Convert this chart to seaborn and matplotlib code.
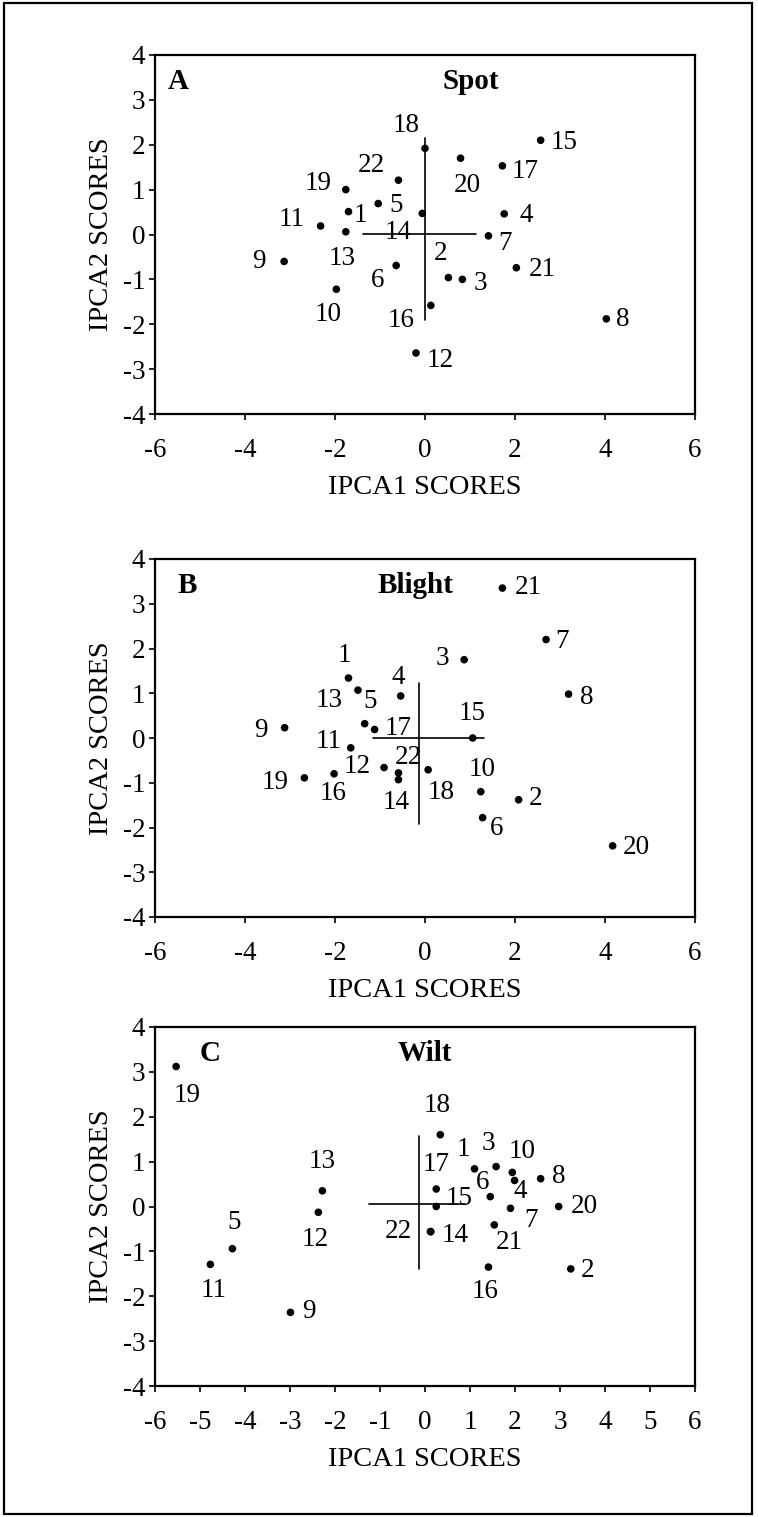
import matplotlib
matplotlib.use("Agg")
import matplotlib.pyplot as plt
import seaborn as sns
import pandas as pd
from matplotlib.patches import Rectangle

# ---------------- data ----------------
ids = list(range(1, 23))

spot_x = [-1.70, 0.52, 0.83, 1.76, -1.04, -0.64, 1.41, 4.03, -3.13, -1.97, -2.32,
          -0.20, -1.76, -0.06, 2.57, 0.13, 1.72, 0.00, -1.76, 0.79, 2.03, -0.59]
spot_y = [0.51, -0.96, -1.00, 0.46, 0.69, -0.69, -0.03, -1.88, -0.60, -1.22, 0.19,
          -2.64, 0.06, 0.47, 2.10, -1.58, 1.53, 1.92, 1.00, 1.70, -0.74, 1.21]

blight_x = [-1.70, 2.08, 0.87, -0.54, -1.49, 1.28, 2.69, 3.19, -3.12, 1.24, -1.65,
            -0.91, -1.34, -0.59, 1.06, -2.02, -1.12, 0.07, -2.68, 4.17, 1.72, -0.59]
blight_y = [1.34, -1.38, 1.75, 0.94, 1.07, -1.78, 2.20, 0.98, 0.23, -1.20, -0.22,
            -0.66, 0.32, -0.93, 0.00, -0.80, 0.19, -0.71, -0.89, -2.41, 3.35, -0.78]

wilt_x = [1.10, 3.24, 1.58, 1.99, -4.28, 1.45, 1.90, 2.57, -2.99, 1.94, -4.77,
          -2.37, -2.28, 0.13, 0.25, 1.41, 0.25, 0.34, -5.53, 2.97, 1.54, 0.12]
wilt_y = [0.84, -1.39, 0.89, 0.58, -0.94, 0.22, -0.04, 0.62, -2.36, 0.76, -1.29,
          -0.13, 0.35, -0.56, 0.00, -1.35, 0.39, 1.60, 3.12, 0.00, -0.41, -0.56]

# origin cross: vertical x, vertical y-extent, horizontal y, horizontal x-extent
spot_cross = (0.0, (-1.91, 2.16), 0.02, (-1.37, 1.13))
blight_cross = (-0.135, (-1.93, 1.23), 0.0, (-1.16, 1.30))
wilt_cross = (-0.135, (-1.40, 1.58), 0.05, (-1.25, 0.88))

panel_letters = ["A", "B", "C"]
panel_titles = ["Spot", "Blight", "Wilt"]
x_ticks_ab = [-6, -4, -2, 0, 2, 4, 6]
x_ticks_c = [-6, -5, -4, -3, -2, -1, 0, 1, 2, 3, 4, 5, 6]
y_ticks = [-4, -3, -2, -1, 0, 1, 2, 3, 4]
x_label = "IPCA1 SCORES"
y_label = "IPCA2 SCORES"

# ---------------- label offsets (pixels, style) ----------------
off_spot = {1: (12, -1), 2: (-8, 29), 3: (18, -2), 4: (22, 1), 5: (18, 1), 6: (-19, -13),
            7: (17, -6), 8: (16, 2), 9: (-25, 3), 10: (-8, -25), 11: (-29, 10), 12: (24, -5),
            13: (-4, -26), 14: (-24, -18), 15: (23, 0), 16: (-30, -14), 17: (23, -3),
            18: (-19, 27), 19: (-28, 9), 20: (7, -27), 21: (26, 1), 22: (-27, 18)}
off_blight = {1: (-4, 27), 2: (17, 4), 3: (-22, 4), 4: (-2, 23), 5: (12, -10), 6: (14, -9),
              7: (16, 1), 8: (18, -1), 9: (-24, 0), 10: (1, 27), 11: (-22, 10), 12: (-27, 4),
              13: (-36, 28), 14: (-2, -22), 15: (-1, 29), 16: (-1, -18), 17: (24, 4),
              18: (13, -22), 19: (-29, -2), 20: (24, 1), 21: (26, 3), 22: (10, 19)}
off_wilt = {1: (-11, 23), 2: (17, 1), 3: (-8, 27), 4: (6, -9), 5: (2, 31), 6: (-8, 18),
            7: (20, -10), 8: (18, 5), 9: (18, 4), 10: (10, 25), 11: (3, -25), 12: (-3, -26),
            13: (0, 34), 14: (24, -1), 15: (23, 11), 16: (-3, -24), 17: (0, 29), 18: (-3, 34),
            19: (11, -29), 20: (26, 3), 21: (15, -16), 22: (-32, 3)}
DY_SCALE = 0.93

# ---------------- style ----------------
sns.set_theme(style="white")
plt.rcParams["font.family"] = ["Liberation Serif", "DejaVu Serif"]
plt.rcParams["axes.unicode_minus"] = False

W, H, DPI = 758, 1517, 100
fig = plt.figure(figsize=(W / DPI, H / DPI), dpi=DPI)
fig.patch.set_facecolor("white")

# axes rectangles in pixels: (left, top, right, bottom)
boxes_px = [(155, 55, 695, 414), (155, 559, 695, 917), (155, 1027, 695, 1386)]

panels = [
    (spot_x, spot_y, spot_cross, off_spot, x_ticks_ab, 0.585),
    (blight_x, blight_y, blight_cross, off_blight, x_ticks_ab, 0.483),
    (wilt_x, wilt_y, wilt_cross, off_wilt, x_ticks_c, 0.50),
]
letter_x = [0.043, 0.059, 0.1025]

FS_TICK = 19.5
FS_LAB = 20.5
FS_PT = 19.5
FS_BOLD = 21

for i, ((xs, ys, cross, offs, xt, title_x), (l, t, r, b)) in enumerate(zip(panels, boxes_px)):
    ax = fig.add_axes([l / W, (H - b) / H, (r - l) / W, (b - t) / H])
    df = pd.DataFrame({"id": ids, "x": xs, "y": ys})
    sns.scatterplot(data=df, x="x", y="y", ax=ax, color="black", s=30,
                    edgecolor="none", zorder=3, legend=False)
    vx, vy, hy, hx = cross
    ax.plot([vx, vx], list(vy), color="black", lw=1.2, zorder=2)
    ax.plot(list(hx), [hy, hy], color="black", lw=1.2, zorder=2)
    for pid, px, py in zip(df["id"], df["x"], df["y"]):
        dx, dy = offs[pid]
        ax.annotate(str(pid), (px, py), xytext=(dx, dy * DY_SCALE - 9),
                    textcoords="offset pixels", ha="center", va="baseline",
                    fontsize=FS_PT, color="black")
    ax.set_xlim(-6, 6)
    ax.set_ylim(-4, 4)
    ax.set_xticks(xt)
    ax.set_yticks(y_ticks)
    ax.set_xticklabels([str(v) for v in xt])
    ax.set_yticklabels([str(v) for v in y_ticks])
    ax.tick_params(axis="both", which="major", direction="out", length=4, width=1.2,
                   labelsize=FS_TICK, bottom=True, left=True, top=False, right=False,
                   colors="black")
    ax.tick_params(axis="x", pad=13)
    ax.tick_params(axis="y", pad=3)
    for sp in ax.spines.values():
        sp.set_visible(True)
        sp.set_color("black")
        sp.set_linewidth(1.6)
    ax.set_xlabel(x_label, fontsize=FS_LAB, labelpad=9, color="black")
    ax.set_ylabel(y_label, fontsize=FS_LAB, labelpad=6, color="black")
    ax.text(letter_x[i], 0.925, panel_letters[i], transform=ax.transAxes, ha="center",
            va="center", fontsize=FS_BOLD, fontweight="bold", color="black")
    ax.text(title_x, 0.925, panel_titles[i], transform=ax.transAxes, ha="center",
            va="center", fontsize=FS_BOLD, fontweight="bold", color="black")
    ax.set_facecolor("white")

# outer frame
fig.patches.append(Rectangle((4 / W, (H - 1514) / H), (752 - 4) / W, (1514 - 3) / H,
                             transform=fig.transFigure, fill=False, edgecolor="black",
                             linewidth=1.6))

fig.savefig("out.png", dpi=DPI, facecolor="white")
